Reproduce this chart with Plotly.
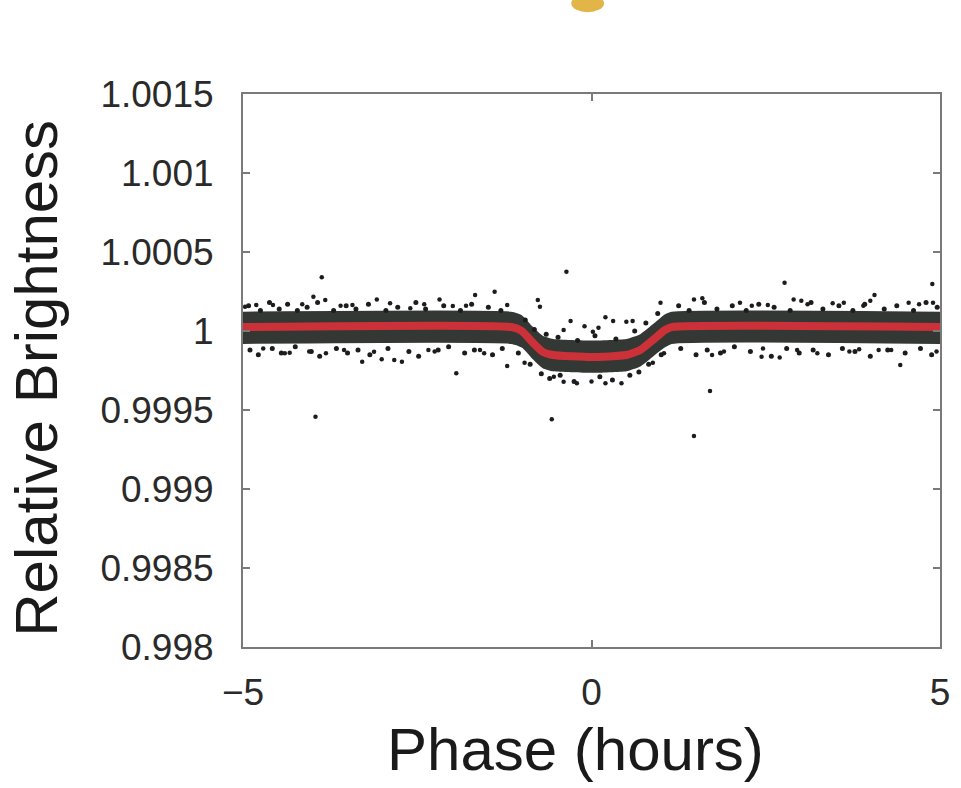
import plotly.graph_objects as go

# ---- transit model (red curve) ----
model_phase = [-5, -1.15, -1.0, -0.85, -0.7, -0.55, 0, 0.5, 0.7, 0.9, 1.05, 1.15, 5]
model_flux = [1.000025, 1.000025, 1.0, 0.99993, 0.999868, 0.999848, 0.999835,
              0.999848, 0.99988, 0.99995, 1.000005, 1.000025, 1.000025]

# ---- dense part of the data cloud (envelopes read at the model phases) ----
core_upper = [1.000122, 1.000122, 1.0001, 1.00003, 0.99997, 0.99995, 0.99994,
              0.99995, 0.99998, 1.00005, 1.000105, 1.000122, 1.000122]
core_lower = [0.999918, 0.999918, 0.999895, 0.999825, 0.999765, 0.999745, 0.999735,
              0.999745, 0.999775, 0.999845, 0.999895, 0.999918, 0.999918]

# ---- individual scattered points ----
pt_phase = [-3.87, -3.99, -3.82, -3.96, -3.29, -3.01, -2.83, -2.72, -3.81, -4.40,
            -4.33, -3.08, -2.89, -3.12, -4.71, -4.97, -4.81, -4.57, -3.43, -2.60,
            -0.36, -2.18, -1.67, -1.39, -1.94, -1.21, -0.57, -0.77, -0.74, -0.30,
            -0.96, -0.40, -0.21, -1.99, -1.21, -2.34, -1.54, -0.40, -0.54,
            1.47, 1.70, 0.20, 0.31, 0.02, 0.50, 0.59, 0.99, 1.47, 1.59, 1.73,
            0.20, 0.43, 0.88, 1.04, 2.13,
            2.77, 4.89, 4.06, 2.90, 3.01, 4.00, 4.55, 4.90, 4.43, 2.44, 2.70,
            3.24, 2.46, 3.46, 3.62, 3.84, 4.12, 2.53,
            -4.15, -3.60, -2.40, -1.80, -0.10, 0.10, 2.30, 3.10, 3.90, 4.70,
            -4.05, -3.55, -2.25, -1.60, 0.00, 1.90, 2.95, 3.70, 4.30, 4.95]
pt_flux = [1.00034, 1.000217, 1.000196, 0.999458, 0.999806, 0.999821, 0.999816, 0.999806, 0.999859, 0.999859,
           0.999863, 1.0002, 1.000175, 0.999869, 0.99989, 1.000154, 1.000165, 1.000165, 1.000165, 1.000144,
           1.000375, 1.0002, 1.000228, 1.000249, 0.999732, 0.999778, 0.999441, 1.000196, 1.000154, 1.000063,
           0.999799, 0.999679, 0.999669, 1.000158, 1.000165, 0.99988, 0.999859, 1.000006, 0.999711,
           0.999335, 0.99962, 1.000087, 1.000063, 0.999996, 1.000059, 1.000063, 1.000179, 1.0002, 1.000207, 0.999848,
           0.999669, 0.999669, 0.999799, 0.999859, 1.000179,
           1.000306, 1.000297, 1.000228, 1.0002, 1.000192, 1.000192, 1.000179, 1.000179, 0.999785, 0.999837, 0.999833,
           0.999859, 0.99989, 1.000175, 1.000179, 0.999884, 0.99988, 1.000165,
           1.00017, 1.00016, 1.00017, 1.00016, 1.00003, 1.00002, 1.00016, 1.00017, 1.00016, 1.00017,
           0.99987, 0.99988, 0.99987, 0.99988, 0.99968, 0.99987, 0.99988, 0.99987, 0.99988, 0.99987]

# ---- ragged edge of the dense cloud ----
edge_phase = [-4.92, -4.75, -4.62, -4.48, -4.36, -4.22, -4.08, -3.93, -3.70, -3.52, -3.38,
              -3.20, -2.95, -2.78, -2.52, -2.38, -2.12, -1.88, -1.72, -1.48, -1.30,
              -4.90, -4.78, -4.58, -4.45, -4.25, -4.02, -3.90, -3.66, -3.50, -3.35,
              -3.18, -2.92, -2.62, -2.48, -2.20, -2.05, -1.82, -1.68, -1.42, -1.28,
              -0.95, -0.82, -0.65, -0.48, -0.20, 0.05, 0.35, 0.62, 0.78, 0.95,
              -1.05, -0.88, -0.72, -0.60, -0.45, -0.25, 0.12, 0.30, 0.55, 0.68, 0.82, 1.00,
              1.25, 1.40, 1.62, 1.80, 2.02, 2.22, 2.40, 2.62, 2.85, 3.15, 3.32, 3.55, 3.75,
              3.92, 4.20, 4.38, 4.62, 4.80, 4.96,
              1.28, 1.50, 1.66, 1.85, 2.05, 2.28, 2.58, 2.80, 2.98, 3.18, 3.40, 3.60, 3.78,
              4.00, 4.25, 4.50, 4.72, 4.88]
edge_flux = [1.00016, 1.00013, 1.00018, 1.00014, 1.00017, 1.00013, 1.00015, 1.00018, 1.00013, 1.00016, 1.00014,
             1.00017, 1.00013, 1.00015, 1.00018, 1.00014, 1.00016, 1.00013, 1.00017, 1.00015, 1.00013,
             0.99988, 0.99985, 0.99989, 0.99986, 0.99990, 0.99987, 0.99984, 0.99989, 0.99986, 0.99988,
             0.99985, 0.99989, 0.99987, 0.99984, 0.99988, 0.99990, 0.99986, 0.99988, 0.99985, 0.99989,
             1.00007, 1.00001, 0.99998, 0.99996, 0.99994, 0.99997, 0.99995, 1.00000, 1.00005, 1.00011,
             0.99986, 0.99979, 0.99973, 0.99970, 0.99972, 0.99968, 0.99971, 0.99969, 0.99972, 0.99974, 0.99979, 0.99985,
             1.00016, 1.00013, 1.00018, 1.00014, 1.00016, 1.00013, 1.00017, 1.00015, 1.00013, 1.00018, 1.00014, 1.00016, 1.00013,
             1.00017, 1.00014, 1.00016, 1.00013, 1.00018, 1.00015,
             0.99989, 0.99985, 0.99988, 0.99986, 0.99990, 0.99987, 0.99984, 0.99989, 0.99986, 0.99988, 0.99985, 0.99989, 0.99987,
             0.99984, 0.99988, 0.99986, 0.99989, 0.99985]

y_ticks = [0.998, 0.9985, 0.999, 0.9995, 1.0, 1.0005, 1.001, 1.0015]
y_labels = ["0.998", "0.9985", "0.999", "0.9995", "1", "1.0005", "1.001", "1.0015"]
x_ticks = [-5, 0, 5]
x_labels = ["\u22125", "0", "5"]

FONT = "Liberation Sans, Arial, Helvetica, sans-serif"
AX = "#7a7a7a"

fig = go.Figure()
# dense core band
fig.add_trace(go.Scatter(x=model_phase, y=core_upper, mode="lines",
                         line=dict(width=0, shape="spline", smoothing=0.5),
                         hoverinfo="skip", showlegend=False))
fig.add_trace(go.Scatter(x=model_phase, y=core_lower, mode="lines", fill="tonexty",
                         fillcolor="rgba(24,28,24,0.88)",
                         line=dict(width=0, shape="spline", smoothing=0.5),
                         hoverinfo="skip", showlegend=False))
# ragged edge + scattered points
fig.add_trace(go.Scatter(x=edge_phase, y=edge_flux, mode="markers",
                         marker=dict(size=5, color="#1c1c1c"), showlegend=False))
fig.add_trace(go.Scatter(x=pt_phase, y=pt_flux, mode="markers",
                         marker=dict(size=4.5, color="#1c1c1c"), showlegend=False))
# model
fig.add_trace(go.Scatter(x=model_phase, y=model_flux, mode="lines",
                         line=dict(color="#cc3038", width=8, shape="spline", smoothing=0.5),
                         showlegend=False))

axis_common = dict(showline=True, mirror="ticks", linecolor=AX, linewidth=2,
                   ticks="inside", ticklen=7, tickwidth=1.5, tickcolor=AX,
                   showgrid=False, zeroline=False,
                   tickfont=dict(family=FONT, size=37, color="#2a2a2a"))

fig.update_xaxes(range=[-5, 5], tickvals=x_ticks, ticktext=x_labels,
                 ticklabelstandoff=12, ticklabeloverflow="allow", **axis_common)
fig.update_yaxes(range=[0.998, 1.0015], tickvals=y_ticks, ticktext=y_labels,
                 ticklabelstandoff=20, **axis_common)

fig.update_layout(
    width=961, height=788, autosize=False,
    margin=dict(l=243, r=11, t=94, b=141),
    plot_bgcolor="white", paper_bgcolor="white",
    font=dict(family=FONT),
    annotations=[
        dict(text="Phase (hours)", xref="paper", yref="paper", x=0.5, y=0,
             xanchor="center", yanchor="middle", yshift=-102, xshift=-16,
             showarrow=False, font=dict(family=FONT, size=60, color="#1a1a1a")),
        dict(text="Relative Brightness", xref="paper", yref="paper", x=0, y=0.485,
             xanchor="center", yanchor="middle", xshift=-206, textangle=-90,
             showarrow=False, font=dict(family=FONT, size=60, color="#1a1a1a")),
    ],
    shapes=[
        dict(type="circle", xref="paper", yref="paper", x0=0.471, x1=0.518,
             y0=1.148, y1=1.18, fillcolor="#e2b548", line=dict(width=0), layer="above"),
    ],
)

# fixed-size figure filling the whole 961x788 window (no page margin, no resizing)
fig.write_html("out.html",
               config={"displayModeBar": False, "responsive": False},
               post_script="document.body.style.margin='0';")
